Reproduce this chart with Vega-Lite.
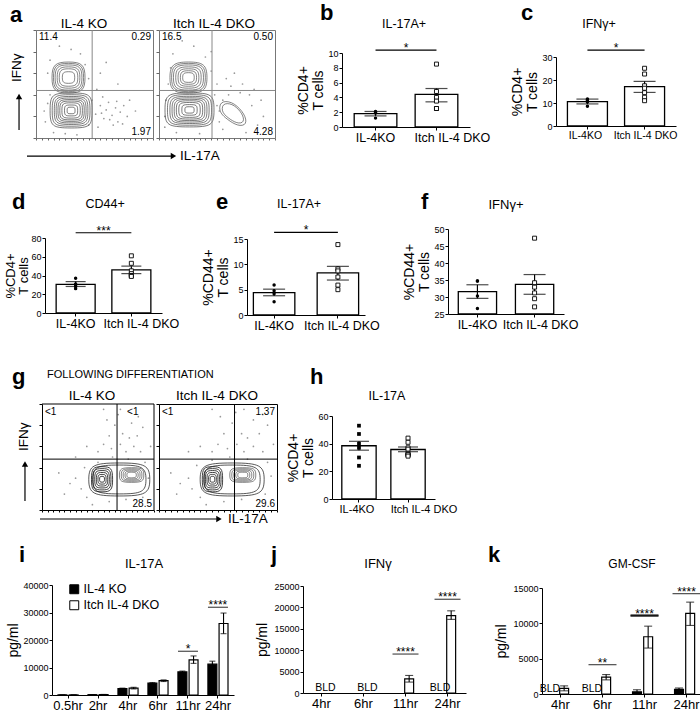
{
"$schema": "https://vega.github.io/schema/vega-lite/v6.json",
"padding": {"left": 4, "top": 2, "right": 2, "bottom": 2},
"config": {
  "font": "Liberation Sans",
  "view": {"stroke": null},
  "axis": {"domainColor":"#000","tickColor":"#000","labelColor":"#000","titleColor":"#000","grid":false,"tickSize":3,"labelPadding":1,"labelFontSize":9,"titleFontWeight":"normal","titleFontSize":14,"titleLineHeight":15,"domainWidth":1,"tickWidth":1,"labelFlush":false,"labelOverlap":false,"labelBound":false},
  "text": {"color":"#000","baseline":"alphabetic"},
  "point": {"opacity":1},
  "legend": {"labelColor":"#000"}
},
"datasets": {
  "aL_dots": [{"x":0.08,"y":0.15},{"x":0.1,"y":0.32},{"x":0.12,"y":0.4},{"x":0.07,"y":0.25},{"x":0.15,"y":0.05},{"x":0.45,"y":0.12},{"x":0.48,"y":0.35},{"x":0.51,"y":0.22},{"x":0.55,"y":0.3},{"x":0.58,"y":0.18},{"x":0.6,"y":0.26},{"x":0.62,"y":0.33},{"x":0.65,"y":0.21},{"x":0.68,"y":0.28},{"x":0.7,"y":0.15},{"x":0.72,"y":0.24},{"x":0.75,"y":0.3},{"x":0.78,"y":0.2},{"x":0.66,"y":0.12},{"x":0.57,"y":0.38},{"x":0.52,"y":0.45},{"x":0.45,"y":0.55},{"x":0.1,"y":0.6},{"x":0.12,"y":0.72},{"x":0.42,"y":0.68},{"x":0.38,"y":0.78},{"x":0.2,"y":0.85},{"x":0.3,"y":0.82},{"x":0.55,"y":0.6},{"x":0.6,"y":0.7},{"x":0.35,"y":0.03},{"x":0.25,"y":0.04},{"x":0.8,"y":0.35},{"x":0.85,"y":0.25},{"x":0.7,"y":0.5},{"x":0.63,"y":0.17},{"x":0.69,"y":0.34},{"x":0.74,"y":0.13},{"x":0.56,"y":0.23},{"x":0.53,"y":0.1}],
  "aR_dots": [{"x":0.05,"y":0.2},{"x":0.06,"y":0.35},{"x":0.08,"y":0.5},{"x":0.1,"y":0.65},{"x":0.12,"y":0.78},{"x":0.4,"y":0.75},{"x":0.45,"y":0.62},{"x":0.5,"y":0.5},{"x":0.48,"y":0.4},{"x":0.5,"y":0.3},{"x":0.52,"y":0.15},{"x":0.78,"y":0.4},{"x":0.8,"y":0.3},{"x":0.85,"y":0.12},{"x":0.55,"y":0.08},{"x":0.6,"y":0.4},{"x":0.7,"y":0.42},{"x":0.88,"y":0.35},{"x":0.9,"y":0.2},{"x":0.58,"y":0.55},{"x":0.65,"y":0.6},{"x":0.3,"y":0.85},{"x":0.2,"y":0.9},{"x":0.15,"y":0.05},{"x":0.35,"y":0.04},{"x":0.75,"y":0.05},{"x":0.72,"y":0.5},{"x":0.55,"y":0.35},{"x":0.52,"y":0.25},{"x":0.82,"y":0.45},{"x":0.62,"y":0.48},{"x":0.45,"y":0.8},{"x":0.05,"y":0.1}],
  "gL_dots": [{"x":0.5,"y":0.55},{"x":0.55,"y":0.62},{"x":0.6,"y":0.7},{"x":0.62,"y":0.58},{"x":0.65,"y":0.8},{"x":0.7,"y":0.62},{"x":0.72,"y":0.72},{"x":0.75,"y":0.55},{"x":0.78,"y":0.68},{"x":0.8,"y":0.82},{"x":0.82,"y":0.6},{"x":0.85,"y":0.7},{"x":0.88,"y":0.55},{"x":0.9,"y":0.78},{"x":0.68,"y":0.9},{"x":0.58,"y":0.85},{"x":0.3,"y":0.3},{"x":0.35,"y":0.2},{"x":0.38,"y":0.4},{"x":0.4,"y":0.12},{"x":0.25,"y":0.25},{"x":0.45,"y":0.05},{"x":0.6,"y":0.08},{"x":0.75,"y":0.1},{"x":0.9,"y":0.12},{"x":0.95,"y":0.3},{"x":0.92,"y":0.45},{"x":0.4,"y":0.6},{"x":0.2,"y":0.15},{"x":0.5,"y":0.45},{"x":0.63,"y":0.5},{"x":0.77,"y":0.48},{"x":0.86,"y":0.88},{"x":0.7,"y":0.95},{"x":0.3,"y":0.5},{"x":0.15,"y":0.35},{"x":0.97,"y":0.6},{"x":0.55,"y":0.95}],
  "gR_dots": [{"x":0.45,"y":0.55},{"x":0.5,"y":0.62},{"x":0.55,"y":0.72},{"x":0.58,"y":0.58},{"x":0.62,"y":0.82},{"x":0.66,"y":0.62},{"x":0.7,"y":0.72},{"x":0.72,"y":0.55},{"x":0.75,"y":0.68},{"x":0.8,"y":0.85},{"x":0.8,"y":0.6},{"x":0.85,"y":0.72},{"x":0.88,"y":0.55},{"x":0.92,"y":0.8},{"x":0.65,"y":0.92},{"x":0.52,"y":0.88},{"x":0.25,"y":0.3},{"x":0.28,"y":0.2},{"x":0.32,"y":0.42},{"x":0.35,"y":0.12},{"x":0.18,"y":0.25},{"x":0.4,"y":0.05},{"x":0.55,"y":0.08},{"x":0.7,"y":0.1},{"x":0.9,"y":0.15},{"x":0.95,"y":0.32},{"x":0.92,"y":0.45},{"x":0.35,"y":0.6},{"x":0.15,"y":0.15},{"x":0.45,"y":0.47},{"x":0.6,"y":0.5},{"x":0.75,"y":0.48},{"x":0.88,"y":0.9},{"x":0.72,"y":0.95},{"x":0.25,"y":0.55},{"x":0.1,"y":0.35},{"x":0.97,"y":0.62},{"x":0.45,"y":0.95}],
  "aL_cont": [{"cluster":"main","cx":0.30,"cy":0.255,"level":1.5},{"cluster":"main","cx":0.30,"cy":0.255,"level":2.5},{"cluster":"main","cx":0.30,"cy":0.255,"level":3.5},{"cluster":"main","cx":0.30,"cy":0.255,"level":4.3},{"cluster":"main","cx":0.30,"cy":0.255,"level":5},{"cluster":"main","cx":0.30,"cy":0.255,"level":5.7},{"cluster":"main","cx":0.30,"cy":0.255,"level":6.4},{"cluster":"main","cx":0.30,"cy":0.255,"level":7.2},{"cluster":"main","cx":0.30,"cy":0.255,"level":8},{"cluster":"up","cx":0.278,"cy":0.56,"level":3},{"cluster":"up","cx":0.278,"cy":0.56,"level":4.5},{"cluster":"up","cx":0.278,"cy":0.56,"level":5.5},{"cluster":"up","cx":0.278,"cy":0.56,"level":6.5},{"cluster":"up","cx":0.278,"cy":0.56,"level":7.3},{"cluster":"up","cx":0.278,"cy":0.56,"level":8}],
  "aR_cont": [{"cluster":"main","cx":0.263,"cy":0.26,"level":1.5},{"cluster":"main","cx":0.263,"cy":0.26,"level":2.5},{"cluster":"main","cx":0.263,"cy":0.26,"level":3.5},{"cluster":"main","cx":0.263,"cy":0.26,"level":4.3},{"cluster":"main","cx":0.263,"cy":0.26,"level":5},{"cluster":"main","cx":0.263,"cy":0.26,"level":5.7},{"cluster":"main","cx":0.263,"cy":0.26,"level":6.4},{"cluster":"main","cx":0.263,"cy":0.26,"level":7.2},{"cluster":"main","cx":0.263,"cy":0.26,"level":8},{"cluster":"up","cx":0.254,"cy":0.56,"level":2.5},{"cluster":"up","cx":0.254,"cy":0.56,"level":3.5},{"cluster":"up","cx":0.254,"cy":0.56,"level":4.5},{"cluster":"up","cx":0.254,"cy":0.56,"level":5.5},{"cluster":"up","cx":0.254,"cy":0.56,"level":6.5},{"cluster":"up","cx":0.254,"cy":0.56,"level":7.3},{"cluster":"up","cx":0.254,"cy":0.56,"level":8},{"cluster":"il17","cx":0.64,"cy":0.236,"level":6.5},{"cluster":"il17","cx":0.64,"cy":0.236,"level":8}],
  "gL_cont": [{"cluster":"all","cx":0.69,"cy":0.288,"level":7},{"cluster":"all","cx":0.69,"cy":0.288,"level":8},{"cluster":"core","cx":0.536,"cy":0.29,"level":1.5},{"cluster":"core","cx":0.536,"cy":0.29,"level":2.5},{"cluster":"core","cx":0.536,"cy":0.29,"level":3.5},{"cluster":"core","cx":0.536,"cy":0.29,"level":4.5},{"cluster":"core","cx":0.536,"cy":0.29,"level":5.5},{"cluster":"core","cx":0.536,"cy":0.29,"level":6.5},{"cluster":"lobe","cx":0.80,"cy":0.33,"level":2.5},{"cluster":"lobe","cx":0.80,"cy":0.33,"level":3.5},{"cluster":"lobe","cx":0.80,"cy":0.33,"level":4.5},{"cluster":"lobe","cx":0.80,"cy":0.33,"level":5.5},{"cluster":"lobe","cx":0.80,"cy":0.33,"level":6.5}],
  "gR_cont": [{"cluster":"all","cx":0.62,"cy":0.288,"level":7},{"cluster":"all","cx":0.62,"cy":0.288,"level":8},{"cluster":"core","cx":0.453,"cy":0.29,"level":1.5},{"cluster":"core","cx":0.453,"cy":0.29,"level":2.5},{"cluster":"core","cx":0.453,"cy":0.29,"level":3.5},{"cluster":"core","cx":0.453,"cy":0.29,"level":4.5},{"cluster":"core","cx":0.453,"cy":0.29,"level":5.5},{"cluster":"core","cx":0.453,"cy":0.29,"level":6.5},{"cluster":"lobe","cx":0.71,"cy":0.33,"level":2.5},{"cluster":"lobe","cx":0.71,"cy":0.33,"level":3.5},{"cluster":"lobe","cx":0.71,"cy":0.33,"level":4.5},{"cluster":"lobe","cx":0.71,"cy":0.33,"level":5.5},{"cluster":"lobe","cx":0.71,"cy":0.33,"level":6.5}],
  "b_sum": [{"g":"IL-4KO","mean":1.8,"lo":1.5,"hi":2.1},{"g":"Itch IL-4 DKO","mean":4.4,"lo":3.4,"hi":5.2}],
  "b_pts": [{"g":"IL-4KO","v":2.1},{"g":"IL-4KO","v":2.0},{"g":"IL-4KO","v":1.9},{"g":"IL-4KO","v":1.2},{"g":"Itch IL-4 DKO","v":8.5},{"g":"Itch IL-4 DKO","v":4.8},{"g":"Itch IL-4 DKO","v":4.0},{"g":"Itch IL-4 DKO","v":3.5},{"g":"Itch IL-4 DKO","v":2.5},{"g":"Itch IL-4 DKO","v":2.5}],
  "c_sum": [{"g":"IL-4KO","mean":10.6,"lo":9.6,"hi":11.7},{"g":"Itch IL-4 DKO","mean":17.1,"lo":14.6,"hi":19.4}],
  "c_pts": [{"g":"IL-4KO","v":11.8},{"g":"IL-4KO","v":11.4},{"g":"IL-4KO","v":11.0},{"g":"IL-4KO","v":10.4},{"g":"IL-4KO","v":8.6},{"g":"Itch IL-4 DKO","v":25.1},{"g":"Itch IL-4 DKO","v":22.6},{"g":"Itch IL-4 DKO","v":17.5},{"g":"Itch IL-4 DKO","v":16.4},{"g":"Itch IL-4 DKO","v":14.5},{"g":"Itch IL-4 DKO","v":12.5},{"g":"Itch IL-4 DKO","v":11.0}],
  "d_sum": [{"g":"IL-4KO","mean":30.5,"lo":28.3,"hi":33.5},{"g":"Itch IL-4 DKO","mean":46,"lo":42,"hi":50}],
  "d_pts": [{"g":"IL-4KO","v":37},{"g":"IL-4KO","v":31},{"g":"IL-4KO","v":30},{"g":"IL-4KO","v":28},{"g":"IL-4KO","v":26},{"g":"Itch IL-4 DKO","v":61},{"g":"Itch IL-4 DKO","v":53},{"g":"Itch IL-4 DKO","v":45},{"g":"Itch IL-4 DKO","v":42},{"g":"Itch IL-4 DKO","v":40},{"g":"Itch IL-4 DKO","v":40},{"g":"Itch IL-4 DKO","v":39}],
  "e_sum": [{"g":"IL-4KO","mean":4.4,"lo":3.8,"hi":5.1},{"g":"Itch IL-4 DKO","mean":8.3,"lo":6.9,"hi":9.6}],
  "e_pts": [{"g":"IL-4KO","v":5.9},{"g":"IL-4KO","v":4.8},{"g":"IL-4KO","v":4.2},{"g":"IL-4KO","v":2.6},{"g":"Itch IL-4 DKO","v":13.9},{"g":"Itch IL-4 DKO","v":9.1},{"g":"Itch IL-4 DKO","v":8.7},{"g":"Itch IL-4 DKO","v":7.5},{"g":"Itch IL-4 DKO","v":5.9},{"g":"Itch IL-4 DKO","v":5.0}],
  "f_sum": [{"g":"IL-4KO","mean":31.6,"lo":29.6,"hi":33.6},{"g":"Itch IL-4 DKO","mean":33.7,"lo":30.8,"hi":36.6}],
  "f_pts": [{"g":"IL-4KO","v":34.7},{"g":"IL-4KO","v":34.7},{"g":"IL-4KO","v":30.3},{"g":"IL-4KO","v":26.6},{"g":"Itch IL-4 DKO","v":47.3},{"g":"Itch IL-4 DKO","v":34.2},{"g":"Itch IL-4 DKO","v":32.9},{"g":"Itch IL-4 DKO","v":31.2},{"g":"Itch IL-4 DKO","v":29.5},{"g":"Itch IL-4 DKO","v":27.1}],
  "h_sum": [{"g":"IL-4KO","mean":38.5,"lo":35.3,"hi":41.7},{"g":"Itch IL-4 DKO","mean":35.8,"lo":34.2,"hi":37.6}],
  "h_pts": [{"g":"IL-4KO","v":53},{"g":"IL-4KO","v":47},{"g":"IL-4KO","v":40},{"g":"IL-4KO","v":37},{"g":"IL-4KO","v":30},{"g":"IL-4KO","v":24},{"g":"Itch IL-4 DKO","v":44},{"g":"Itch IL-4 DKO","v":41},{"g":"Itch IL-4 DKO","v":37},{"g":"Itch IL-4 DKO","v":36},{"g":"Itch IL-4 DKO","v":33},{"g":"Itch IL-4 DKO","v":32},{"g":"Itch IL-4 DKO","v":32},{"g":"Itch IL-4 DKO","v":31}],
  "i_sum": [{"time":"0.5hr","geno":"IL-4 KO","mean":20,"lo":20,"hi":20},{"time":"0.5hr","geno":"Itch IL-4 DKO","mean":30,"lo":30,"hi":30},{"time":"2hr","geno":"IL-4 KO","mean":120,"lo":100,"hi":140},{"time":"2hr","geno":"Itch IL-4 DKO","mean":180,"lo":150,"hi":210},{"time":"4hr","geno":"IL-4 KO","mean":2300,"lo":2100,"hi":2500},{"time":"4hr","geno":"Itch IL-4 DKO","mean":2500,"lo":2200,"hi":2800},{"time":"6hr","geno":"IL-4 KO","mean":4300,"lo":4100,"hi":4500},{"time":"6hr","geno":"Itch IL-4 DKO","mean":5200,"lo":4900,"hi":5500},{"time":"11hr","geno":"IL-4 KO","mean":8400,"lo":8100,"hi":8700},{"time":"11hr","geno":"Itch IL-4 DKO","mean":12800,"lo":11500,"hi":14200},{"time":"24hr","geno":"IL-4 KO","mean":11200,"lo":10300,"hi":12300},{"time":"24hr","geno":"Itch IL-4 DKO","mean":26000,"lo":22300,"hi":29800}],
  "i_sig": [{"time":"11hr","level":15900,"stars":"*"},{"time":"24hr","level":31900,"stars":"****"}],
  "j_sum": [{"time":"11hr","geno":"Itch IL-4 DKO","mean":3300,"lo":2550,"hi":4100},{"time":"24hr","geno":"Itch IL-4 DKO","mean":18100,"lo":17200,"hi":19200}],
  "j_bld_c": [{"time":"4hr"},{"time":"6hr"}],
  "j_bld_g": [{"time":"24hr","geno":"IL-4 KO"}],
  "j_sig": [{"time":"11hr","level":9100,"stars":"****"},{"time":"24hr","level":21900,"stars":"****"}],
  "k_sum": [{"time":"4hr","geno":"Itch IL-4 DKO","mean":800,"lo":450,"hi":1150},{"time":"6hr","geno":"Itch IL-4 DKO","mean":2400,"lo":2000,"hi":2750},{"time":"11hr","geno":"IL-4 KO","mean":300,"lo":30,"hi":600},{"time":"11hr","geno":"Itch IL-4 DKO","mean":8100,"lo":6500,"hi":9600},{"time":"24hr","geno":"IL-4 KO","mean":650,"lo":480,"hi":850},{"time":"24hr","geno":"Itch IL-4 DKO","mean":11400,"lo":9700,"hi":13000}],
  "k_bld": [{"time":"4hr","geno":"IL-4 KO"},{"time":"6hr","geno":"IL-4 KO"}],
  "k_sig": [{"time":"6hr","level":4150,"stars":"**"},{"time":"11hr","level":11100,"stars":"****"},{"time":"24hr","level":14200,"stars":"****"}]
},
"spacing": 34,
"resolve": {"scale": {"fill": "independent"}, "legend": {"fill": "independent"}},
"vconcat": [
 {"spacing": 27, "vconcat": [
  {"spacing": 20, "hconcat": [
   {"spacing": 6, "bounds": "flush", "hconcat": [
    {"width":117,"height":108,"view":{"stroke":"#777"},
     "layer":[
      {"data":{"name":"aL_dots"},"mark":{"type":"point","filled":true,"size":3,"color":"#9a9a9a","clip":true},
       "encoding":{"x":{"field":"x","type":"quantitative","scale":{"domain":[0,1],"nice":false,"zero":false},"axis":{"title":null,"labels":false,"tickCount":24,"tickSize":2,"domain":false,"tickColor":"#666"}},
                   "y":{"field":"y","type":"quantitative","scale":{"domain":[0,1],"nice":false,"zero":false},"axis":{"title":null,"labels":false,"tickCount":6,"tickSize":3,"domain":false,"tickColor":"#666"}}}},
      {"data":{"name":"aL_cont"},"transform":[{"filter":"datum.cluster === 'main'"}],"mark":{"type":"point","shape":"M -2.1 0 C -2.1 -1.575 -1.89 -1.75 0 -1.75 C 1.89 -1.75 2.1 -1.575 2.1 0 C 2.1 1.575 1.89 1.75 0 1.75 C -1.89 1.75 -2.1 1.575 -2.1 0 Z","filled":false,"stroke":"#222","strokeWidth":0.6,"clip":true},
       "encoding":{"x":{"field":"cx","type":"quantitative"},"y":{"field":"cy","type":"quantitative"},"size":{"field":"level","type":"quantitative","scale":{"type":"pow","exponent":2,"domain":[0,8],"range":[0,400]},"legend":null}}},
      {"data":{"name":"aL_cont"},"transform":[{"filter":"datum.cluster === 'up'"}],"mark":{"type":"point","shape":"M -1.65 0 C -1.65 -1.24 -1.32 -1.55 0 -1.55 C 1.32 -1.55 1.65 -1.24 1.65 0 C 1.65 1.24 1.32 1.55 0 1.55 C -1.32 1.55 -1.65 1.24 -1.65 0 Z","filled":false,"stroke":"#333","strokeWidth":0.6,"clip":true},
       "encoding":{"x":{"field":"cx","type":"quantitative"},"y":{"field":"cy","type":"quantitative"},"size":{"field":"level","type":"quantitative","scale":{"type":"pow","exponent":2,"domain":[0,8],"range":[0,400]},"legend":null}}},
      {"data":{"values":[{}]},"mark":{"type":"rule","color":"#888","strokeWidth":1},"encoding":{"x":{"datum":0.48}}},
      {"data":{"values":[{}]},"mark":{"type":"rule","color":"#888","strokeWidth":1},"encoding":{"y":{"datum":0.44}}},
      {"data":{"values":[{}]},"mark":{"type":"text","text":"11.4","fontSize":10,"align":"left","baseline":"top","dx":3,"dy":2},"encoding":{"x":{"datum":0},"y":{"datum":1}}},
      {"data":{"values":[{}]},"mark":{"type":"text","text":"0.29","fontSize":10,"align":"right","baseline":"top","dx":-2,"dy":2},"encoding":{"x":{"datum":1},"y":{"datum":1}}},
      {"data":{"values":[{}]},"mark":{"type":"text","text":"1.97","fontSize":10,"align":"right","baseline":"bottom","dx":-2,"dy":-1},"encoding":{"x":{"datum":1},"y":{"datum":0}}},
      {"data":{"values":[{}]},"mark":{"type":"text","text":"IL-4 KO","fontSize":13.5,"dx":-10.5,"dy":-2},"encoding":{"x":{"datum":0.5},"y":{"datum":1}}},
      {"data":{"values":[{}]},"mark":{"type":"text","text":"a","fontSize":22,"fontWeight":"bold","align":"left","dx":-26,"dy":-8},"encoding":{"x":{"datum":0},"y":{"datum":1}}},
      {"data":{"values":[{}]},"mark":{"type":"rule","color":"#000","strokeWidth":1.2},"encoding":{"x":{"datum":-0.145},"y":{"datum":0.074},"y2":{"datum":0.37}}},
      {"data":{"values":[{}]},"mark":{"type":"point","shape":"triangle-up","filled":true,"color":"#000","size":40},"encoding":{"x":{"datum":-0.145},"y":{"datum":0.385}}},
      {"data":{"values":[{}]},"mark":{"type":"text","text":"IFNγ","fontSize":13.5,"angle":270,"baseline":"middle"},"encoding":{"x":{"datum":-0.16},"y":{"datum":0.65}}},
      {"data":{"values":[{}]},"mark":{"type":"rule","color":"#000","strokeWidth":1.2},"encoding":{"x":{"datum":-0.077},"x2":{"datum":1.16},"y":{"datum":-0.167}}},
      {"data":{"values":[{}]},"mark":{"type":"point","shape":"triangle-right","filled":true,"color":"#000","size":40},"encoding":{"x":{"datum":1.175},"y":{"datum":-0.167}}},
      {"data":{"values":[{}]},"mark":{"type":"text","text":"IL-17A","fontSize":13.5,"align":"left","baseline":"middle"},"encoding":{"x":{"datum":1.23},"y":{"datum":-0.167}}}
     ]},
    {"width":116,"height":108,"view":{"stroke":"#777"},
     "layer":[
      {"data":{"name":"aR_dots"},"mark":{"type":"point","filled":true,"size":3,"color":"#9a9a9a","clip":true},
       "encoding":{"x":{"field":"x","type":"quantitative","scale":{"domain":[0,1],"nice":false,"zero":false},"axis":{"title":null,"labels":false,"tickCount":24,"tickSize":2,"domain":false,"tickColor":"#666"}},
                   "y":{"field":"y","type":"quantitative","scale":{"domain":[0,1],"nice":false,"zero":false},"axis":{"title":null,"labels":false,"tickCount":6,"tickSize":3,"domain":false,"tickColor":"#666"}}}},
      {"data":{"name":"aR_cont"},"transform":[{"filter":"datum.cluster === 'main'"}],"mark":{"type":"point","shape":"M -2.45 0 C -2.45 -1.53 -2.205 -1.7 0 -1.7 C 2.205 -1.7 2.45 -1.53 2.45 0 C 2.45 1.53 2.205 1.7 0 1.7 C -2.205 1.7 -2.45 1.53 -2.45 0 Z","filled":false,"stroke":"#222","strokeWidth":0.6,"clip":true},
       "encoding":{"x":{"field":"cx","type":"quantitative"},"y":{"field":"cy","type":"quantitative"},"size":{"field":"level","type":"quantitative","scale":{"type":"pow","exponent":2,"domain":[0,8],"range":[0,400]},"legend":null}}},
      {"data":{"name":"aR_cont"},"transform":[{"filter":"datum.cluster === 'up'"}],"mark":{"type":"point","shape":"M -1.85 0 C -1.85 -1.24 -1.48 -1.55 0 -1.55 C 1.48 -1.55 1.85 -1.24 1.85 0 C 1.85 1.24 1.48 1.55 0 1.55 C -1.48 1.55 -1.85 1.24 -1.85 0 Z","filled":false,"stroke":"#333","strokeWidth":0.6,"clip":true},
       "encoding":{"x":{"field":"cx","type":"quantitative"},"y":{"field":"cy","type":"quantitative"},"size":{"field":"level","type":"quantitative","scale":{"type":"pow","exponent":2,"domain":[0,8],"range":[0,400]},"legend":null}}},
      {"data":{"name":"aR_cont"},"transform":[{"filter":"datum.cluster === 'il17'"}],"mark":{"type":"point","shape":"M -1.35 -0.5 C -1.35 -1.3 -0.3 -1.25 0.4 -0.6 C 1.1 0 1.5 0.9 1.1 1.2 C 0.6 1.5 -0.2 1.0 -0.8 0.5 C -1.2 0.15 -1.35 -0.1 -1.35 -0.5 Z","filled":false,"stroke":"#333","strokeWidth":0.6,"clip":true},
       "encoding":{"x":{"field":"cx","type":"quantitative"},"y":{"field":"cy","type":"quantitative"},"size":{"field":"level","type":"quantitative","scale":{"type":"pow","exponent":2,"domain":[0,8],"range":[0,400]},"legend":null}}},
      {"data":{"values":[{}]},"mark":{"type":"rule","color":"#888","strokeWidth":1},"encoding":{"x":{"datum":0.457}}},
      {"data":{"values":[{}]},"mark":{"type":"rule","color":"#888","strokeWidth":1},"encoding":{"y":{"datum":0.44}}},
      {"data":{"values":[{}]},"mark":{"type":"text","text":"16.5","fontSize":10,"align":"left","baseline":"top","dx":3,"dy":2},"encoding":{"x":{"datum":0},"y":{"datum":1}}},
      {"data":{"values":[{}]},"mark":{"type":"text","text":"0.50","fontSize":10,"align":"right","baseline":"top","dx":-2,"dy":2},"encoding":{"x":{"datum":1},"y":{"datum":1}}},
      {"data":{"values":[{}]},"mark":{"type":"text","text":"4.28","fontSize":10,"align":"right","baseline":"bottom","dx":-2,"dy":-1},"encoding":{"x":{"datum":1},"y":{"datum":0}}},
      {"data":{"values":[{}]},"mark":{"type":"text","text":"Itch  IL-4 DKO","fontSize":13.5,"dx":-3,"dy":-2},"encoding":{"x":{"datum":0.5},"y":{"datum":1}}}
     ]}
   ]},
   {"width":128,"height":97,
    "layer":[
     {"data":{"name":"b_sum"},"mark":{"type":"bar","fill":"#fff","stroke":"#000","strokeWidth":1.3},
      "encoding":{"x":{"field":"g","type":"nominal","scale":{"domain":["IL-4KO","Itch IL-4 DKO"],"paddingInner":0.3,"paddingOuter":0.2},"axis":{"title":null,"labelAngle":0,"labelFontSize":12.5,"labelOverlap":false,"labelOffset":{"condition":{"test":"datum.value === 'Itch IL-4 DKO'","value":16},"value":0}}},
                  "y":{"field":"mean","type":"quantitative","scale":{"domain":[0,10],"nice":false,"range":[97,23]},"axis":{"values":[0,2,4,6,8,10],"format":"d","tickCount":20,"labelOverlap":false,"title":["%CD4+","T cells"],"titlePadding":2}}}},
     {"data":{"name":"b_sum"},"mark":{"type":"rule","color":"#000","strokeWidth":1.2},"encoding":{"x":{"field":"g","type":"nominal"},"y":{"field":"lo","type":"quantitative"},"y2":{"field":"hi"}}},
     {"data":{"name":"b_sum"},"mark":{"type":"tick","size":22,"thickness":1.2,"color":"#000"},"encoding":{"x":{"field":"g","type":"nominal"},"y":{"field":"lo","type":"quantitative"}}},
     {"data":{"name":"b_sum"},"mark":{"type":"tick","size":22,"thickness":1.2,"color":"#000"},"encoding":{"x":{"field":"g","type":"nominal"},"y":{"field":"hi","type":"quantitative"}}},
     {"data":{"name":"b_pts"},"transform":[{"filter":"datum.g === 'IL-4KO'"}],"mark":{"type":"point","shape":"circle","filled":true,"color":"#000","size":12},"encoding":{"x":{"field":"g","type":"nominal"},"y":{"field":"v","type":"quantitative"}}},
     {"data":{"name":"b_pts"},"transform":[{"filter":"datum.g !== 'IL-4KO'"}],"mark":{"type":"point","shape":"square","filled":true,"fill":"#fff","stroke":"#000","strokeWidth":0.9,"size":16},"encoding":{"x":{"field":"g","type":"nominal"},"y":{"field":"v","type":"quantitative"}}},
     {"data":{"values":[{}]},"mark":{"type":"rule","color":"#000","strokeWidth":1.2},"encoding":{"x":{"datum":"IL-4KO"},"x2":{"datum":"Itch IL-4 DKO"},"y":{"datum":10.4}}},
     {"data":{"values":[{}]},"mark":{"type":"text","text":"*","fontSize":12,"dx":30.5,"dy":2},"encoding":{"x":{"datum":"IL-4KO"},"y":{"datum":10.4}}},
     {"data":{"values":[{}]},"mark":{"type":"text","text":"b","fontSize":22,"fontWeight":"bold","align":"left","dx":-55.5,"dy":-33},"encoding":{"x":{"datum":"IL-4KO"},"y":{"datum":10}}},
     {"data":{"values":[{}]},"mark":{"type":"text","text":"IL-17A+","fontSize":12.5,"dx":28.5,"dy":-25},"encoding":{"x":{"datum":"IL-4KO"},"y":{"datum":10}}}
    ]},
   {"width":120,"height":96,
    "layer":[
     {"data":{"name":"c_sum"},"mark":{"type":"bar","fill":"#fff","stroke":"#000","strokeWidth":1.3},
      "encoding":{"x":{"field":"g","type":"nominal","scale":{"domain":["IL-4KO","Itch IL-4 DKO"],"paddingInner":0.3,"paddingOuter":0.2},"axis":{"title":null,"labelAngle":0,"labelFontSize":10.5,"labelOverlap":false,"labelOffset":{"condition":{"test":"datum.value === 'Itch IL-4 DKO'","value":1},"value":-2}}},
                  "y":{"field":"mean","type":"quantitative","scale":{"domain":[0,30],"nice":false,"range":[96,27]},"axis":{"values":[0,10,20,30],"format":"d","tickCount":20,"labelOverlap":false,"title":["%CD4+","T cells"],"titlePadding":2}}}},
     {"data":{"name":"c_sum"},"mark":{"type":"rule","color":"#000","strokeWidth":1.2},"encoding":{"x":{"field":"g","type":"nominal"},"y":{"field":"lo","type":"quantitative"},"y2":{"field":"hi"}}},
     {"data":{"name":"c_sum"},"mark":{"type":"tick","size":22,"thickness":1.2,"color":"#000"},"encoding":{"x":{"field":"g","type":"nominal"},"y":{"field":"lo","type":"quantitative"}}},
     {"data":{"name":"c_sum"},"mark":{"type":"tick","size":22,"thickness":1.2,"color":"#000"},"encoding":{"x":{"field":"g","type":"nominal"},"y":{"field":"hi","type":"quantitative"}}},
     {"data":{"name":"c_pts"},"transform":[{"filter":"datum.g === 'IL-4KO'"}],"mark":{"type":"point","shape":"circle","filled":true,"color":"#000","size":12},"encoding":{"x":{"field":"g","type":"nominal"},"y":{"field":"v","type":"quantitative"}}},
     {"data":{"name":"c_pts"},"transform":[{"filter":"datum.g !== 'IL-4KO'"}],"mark":{"type":"point","shape":"square","filled":true,"fill":"#fff","stroke":"#000","strokeWidth":0.9,"size":16},"encoding":{"x":{"field":"g","type":"nominal"},"y":{"field":"v","type":"quantitative"}}},
     {"data":{"values":[{}]},"mark":{"type":"rule","color":"#000","strokeWidth":1.2},"encoding":{"x":{"datum":"IL-4KO"},"x2":{"datum":"Itch IL-4 DKO"},"y":{"datum":33}}},
     {"data":{"values":[{}]},"mark":{"type":"text","text":"*","fontSize":12,"dx":28.6,"dy":2},"encoding":{"x":{"datum":"IL-4KO"},"y":{"datum":33}}},
     {"data":{"values":[{}]},"mark":{"type":"text","text":"c","fontSize":22,"fontWeight":"bold","align":"left","dx":-66.4,"dy":-37},"encoding":{"x":{"datum":"IL-4KO"},"y":{"datum":30}}},
     {"data":{"values":[{}]},"mark":{"type":"text","text":"IFNγ+","fontSize":12.5,"dx":11.6,"dy":-29},"encoding":{"x":{"datum":"IL-4KO"},"y":{"datum":30}}}
    ]}
  ]},
  {"spacing": 22, "hconcat": [
   {"width":126,"height":84,
    "layer":[
     {"data":{"name":"d_sum"},"mark":{"type":"bar","fill":"#fff","stroke":"#000","strokeWidth":1.3},
      "encoding":{"x":{"field":"g","type":"nominal","scale":{"domain":["IL-4KO","Itch IL-4 DKO"],"paddingInner":0.3,"paddingOuter":0.2,"range":[9,126]},"axis":{"title":null,"labelAngle":0,"labelFontSize":12.5,"labelOverlap":false,"labelOffset":{"condition":{"test":"datum.value === 'Itch IL-4 DKO'","value":10},"value":0}}},
                  "y":{"field":"mean","type":"quantitative","scale":{"domain":[0,80],"nice":false,"range":[84,9]},"axis":{"values":[0,20,40,60,80],"format":"d","tickCount":20,"labelOverlap":false,"offset":-9,"title":["%CD4+","T cells"],"titlePadding":0,"titleFontSize":13,"titleLineHeight":13}}}},
     {"data":{"name":"d_sum"},"mark":{"type":"rule","color":"#000","strokeWidth":1.2},"encoding":{"x":{"field":"g","type":"nominal"},"y":{"field":"lo","type":"quantitative"},"y2":{"field":"hi"}}},
     {"data":{"name":"d_sum"},"mark":{"type":"tick","size":20,"thickness":1.2,"color":"#000"},"encoding":{"x":{"field":"g","type":"nominal"},"y":{"field":"lo","type":"quantitative"}}},
     {"data":{"name":"d_sum"},"mark":{"type":"tick","size":20,"thickness":1.2,"color":"#000"},"encoding":{"x":{"field":"g","type":"nominal"},"y":{"field":"hi","type":"quantitative"}}},
     {"data":{"name":"d_pts"},"transform":[{"filter":"datum.g === 'IL-4KO'"}],"mark":{"type":"point","shape":"circle","filled":true,"color":"#000","size":12},"encoding":{"x":{"field":"g","type":"nominal"},"y":{"field":"v","type":"quantitative"}}},
     {"data":{"name":"d_pts"},"transform":[{"filter":"datum.g !== 'IL-4KO'"}],"mark":{"type":"point","shape":"square","filled":true,"fill":"#fff","stroke":"#000","strokeWidth":0.9,"size":16},"encoding":{"x":{"field":"g","type":"nominal"},"y":{"field":"v","type":"quantitative"}}},
     {"data":{"values":[{}]},"mark":{"type":"rule","color":"#000","strokeWidth":1.2},"encoding":{"x":{"datum":"IL-4KO"},"x2":{"datum":"Itch IL-4 DKO"},"y":{"datum":85.6}}},
     {"data":{"values":[{}]},"mark":{"type":"text","text":"***","fontSize":12,"dx":27.9,"dy":2},"encoding":{"x":{"datum":"IL-4KO"},"y":{"datum":85.6}}},
     {"data":{"values":[{}]},"mark":{"type":"text","text":"d","fontSize":22,"fontWeight":"bold","align":"left","dx":-63.6,"dy":-29},"encoding":{"x":{"datum":"IL-4KO"},"y":{"datum":80}}},
     {"data":{"values":[{}]},"mark":{"type":"text","text":"CD44+","fontSize":12.5,"dx":29.4,"dy":-30},"encoding":{"x":{"datum":"IL-4KO"},"y":{"datum":80}}}
    ]},
   {"width":118,"height":86,
    "layer":[
     {"data":{"name":"e_sum"},"mark":{"type":"bar","fill":"#fff","stroke":"#000","strokeWidth":1.3},
      "encoding":{"x":{"field":"g","type":"nominal","scale":{"domain":["IL-4KO","Itch IL-4 DKO"],"paddingInner":0.35,"paddingOuter":0.1},"axis":{"title":null,"labelAngle":0,"labelFontSize":12.5,"labelOverlap":false,"labelOffset":{"condition":{"test":"datum.value === 'Itch IL-4 DKO'","value":4},"value":0}}},
                  "y":{"field":"mean","type":"quantitative","scale":{"domain":[0,15],"nice":false,"range":[86,10]},"axis":{"values":[0,5,10,15],"format":"d","tickCount":20,"labelOverlap":false,"title":["%CD44+","T cells"],"titlePadding":2}}}},
     {"data":{"name":"e_sum"},"mark":{"type":"rule","color":"#000","strokeWidth":1.2},"encoding":{"x":{"field":"g","type":"nominal"},"y":{"field":"lo","type":"quantitative"},"y2":{"field":"hi"}}},
     {"data":{"name":"e_sum"},"mark":{"type":"tick","size":22,"thickness":1.2,"color":"#000"},"encoding":{"x":{"field":"g","type":"nominal"},"y":{"field":"lo","type":"quantitative"}}},
     {"data":{"name":"e_sum"},"mark":{"type":"tick","size":22,"thickness":1.2,"color":"#000"},"encoding":{"x":{"field":"g","type":"nominal"},"y":{"field":"hi","type":"quantitative"}}},
     {"data":{"name":"e_pts"},"transform":[{"filter":"datum.g === 'IL-4KO'"}],"mark":{"type":"point","shape":"circle","filled":true,"color":"#000","size":12},"encoding":{"x":{"field":"g","type":"nominal"},"y":{"field":"v","type":"quantitative"}}},
     {"data":{"name":"e_pts"},"transform":[{"filter":"datum.g !== 'IL-4KO'"}],"mark":{"type":"point","shape":"square","filled":true,"fill":"#fff","stroke":"#000","strokeWidth":0.9,"size":16},"encoding":{"x":{"field":"g","type":"nominal"},"y":{"field":"v","type":"quantitative"}}},
     {"data":{"values":[{}]},"mark":{"type":"rule","color":"#000","strokeWidth":1.2},"encoding":{"x":{"datum":"IL-4KO"},"x2":{"datum":"Itch IL-4 DKO"},"y":{"datum":16.3}}},
     {"data":{"values":[{}]},"mark":{"type":"text","text":"*","fontSize":12,"dx":31.9,"dy":2},"encoding":{"x":{"datum":"IL-4KO"},"y":{"datum":16.3}}},
     {"data":{"values":[{}]},"mark":{"type":"text","text":"e","fontSize":22,"fontWeight":"bold","align":"left","dx":-58,"dy":-30},"encoding":{"x":{"datum":"IL-4KO"},"y":{"datum":15}}},
     {"data":{"values":[{}]},"mark":{"type":"text","text":"IL-17A+","fontSize":12.5,"dx":25,"dy":-31},"encoding":{"x":{"datum":"IL-4KO"},"y":{"datum":15}}}
    ]},
   {"width":116,"height":85,
    "layer":[
     {"data":{"name":"f_sum"},"mark":{"type":"bar","fill":"#fff","stroke":"#000","strokeWidth":1.3},
      "encoding":{"x":{"field":"g","type":"nominal","scale":{"domain":["IL-4KO","Itch IL-4 DKO"],"paddingInner":0.33,"paddingOuter":0.18},"axis":{"title":null,"labelAngle":0,"labelFontSize":12.5,"labelOverlap":false,"labelOffset":{"condition":{"test":"datum.value === 'Itch IL-4 DKO'","value":6},"value":0}}},
                  "y":{"field":"mean","type":"quantitative","scale":{"domain":[25,50],"nice":false,"zero":false},"axis":{"values":[25,30,35,40,45,50],"format":"d","tickCount":20,"labelOverlap":false,"title":["%CD44+","T cells"],"titlePadding":2}},
                  "y2":{"datum":25}}},
     {"data":{"name":"f_sum"},"mark":{"type":"rule","color":"#000","strokeWidth":1.2},"encoding":{"x":{"field":"g","type":"nominal"},"y":{"field":"lo","type":"quantitative"},"y2":{"field":"hi"}}},
     {"data":{"name":"f_sum"},"mark":{"type":"tick","size":22,"thickness":1.2,"color":"#000"},"encoding":{"x":{"field":"g","type":"nominal"},"y":{"field":"lo","type":"quantitative"}}},
     {"data":{"name":"f_sum"},"mark":{"type":"tick","size":22,"thickness":1.2,"color":"#000"},"encoding":{"x":{"field":"g","type":"nominal"},"y":{"field":"hi","type":"quantitative"}}},
     {"data":{"name":"f_pts"},"transform":[{"filter":"datum.g === 'IL-4KO'"}],"mark":{"type":"point","shape":"circle","filled":true,"color":"#000","size":12},"encoding":{"x":{"field":"g","type":"nominal"},"y":{"field":"v","type":"quantitative"}}},
     {"data":{"name":"f_pts"},"transform":[{"filter":"datum.g !== 'IL-4KO'"}],"mark":{"type":"point","shape":"square","filled":true,"fill":"#fff","stroke":"#000","strokeWidth":0.9,"size":16},"encoding":{"x":{"field":"g","type":"nominal"},"y":{"field":"v","type":"quantitative"}}},
     {"data":{"values":[{}]},"mark":{"type":"text","text":"f","fontSize":22,"fontWeight":"bold","align":"left","dx":-56.4,"dy":-20},"encoding":{"x":{"datum":"IL-4KO"},"y":{"datum":50}}},
     {"data":{"values":[{}]},"mark":{"type":"text","text":"IFNγ+","fontSize":13,"dx":28.6,"dy":-20},"encoding":{"x":{"datum":"IL-4KO"},"y":{"datum":50}}}
    ]}
  ]}
 ]},
 {"spacing": 18, "resolve": {"scale": {"fill": "independent"}, "legend": {"fill": "independent"}}, "vconcat": [
  {"spacing": 8, "hconcat": [
   {"spacing": 5, "bounds": "flush", "hconcat": [
    {"width":118,"height":106,
     "layer":[
      {"data":{"name":"gL_dots"},"mark":{"type":"point","filled":true,"size":3,"color":"#999","clip":true},
       "encoding":{"x":{"field":"x","type":"quantitative","scale":{"domain":[0,1],"nice":false,"zero":false,"range":[6,118]},"axis":{"title":null,"labels":false,"tickCount":24,"tickSize":2,"domain":true}},
                   "y":{"field":"y","type":"quantitative","scale":{"domain":[0,1],"nice":false,"zero":false},"axis":{"title":null,"labels":false,"tickCount":6,"tickSize":3,"domain":true,"offset":-6}}}},
      {"data":{"name":"gL_cont"},"transform":[{"filter":"datum.cluster === 'all'"}],"mark":{"type":"point","shape":"M -3.05 0 C -3.05 -1.4 -2.59 -1.65 0 -1.65 C 2.59 -1.65 3.05 -1.4 3.05 0 C 3.05 1.4 2.59 1.65 0 1.65 C -2.59 1.65 -3.05 1.4 -3.05 0 Z","filled":false,"stroke":"#111","strokeWidth":0.7},
       "encoding":{"x":{"field":"cx","type":"quantitative"},"y":{"field":"cy","type":"quantitative"},"size":{"field":"level","type":"quantitative","scale":{"type":"pow","exponent":2,"domain":[0,8],"range":[0,400]},"legend":null}}},
      {"data":{"name":"gL_cont"},"transform":[{"filter":"datum.cluster === 'core'"}],"mark":{"type":"point","shape":"M -1.3 0 C -1.3 -1.32 -1.1 -1.55 0 -1.55 C 1.1 -1.55 1.3 -1.32 1.3 0 C 1.3 1.32 1.1 1.55 0 1.55 C -1.1 1.55 -1.3 1.32 -1.3 0 Z","filled":false,"stroke":"#111","strokeWidth":0.8},
       "encoding":{"x":{"field":"cx","type":"quantitative"},"y":{"field":"cy","type":"quantitative"},"size":{"field":"level","type":"quantitative","scale":{"type":"pow","exponent":2,"domain":[0,8],"range":[0,400]},"legend":null}}},
      {"data":{"name":"gL_cont"},"transform":[{"filter":"datum.cluster === 'lobe'"}],"mark":{"type":"point","shape":"M -1.5 0 C -1.5 -0.77 -1.28 -0.9 0 -0.9 C 1.28 -0.9 1.5 -0.77 1.5 0 C 1.5 0.77 1.28 0.9 0 0.9 C -1.28 0.9 -1.5 0.77 -1.5 0 Z","filled":false,"stroke":"#333","strokeWidth":0.6},
       "encoding":{"x":{"field":"cx","type":"quantitative"},"y":{"field":"cy","type":"quantitative"},"size":{"field":"level","type":"quantitative","scale":{"type":"pow","exponent":2,"domain":[0,8],"range":[0,400]},"legend":null}}},
      {"data":{"values":[{}]},"mark":{"type":"rule","color":"#000","strokeWidth":1},"encoding":{"x":{"datum":0},"x2":{"datum":1},"y":{"datum":1}}},
      {"data":{"values":[{}]},"mark":{"type":"rule","color":"#000","strokeWidth":1},"encoding":{"x":{"datum":1}}},
      {"data":{"values":[{}]},"mark":{"type":"rule","color":"#000","strokeWidth":1},"encoding":{"x":{"datum":0.67}}},
      {"data":{"values":[{}]},"mark":{"type":"rule","color":"#000","strokeWidth":1},"encoding":{"x":{"datum":0},"x2":{"datum":1},"y":{"datum":0.48}}},
      {"data":{"values":[{}]},"mark":{"type":"text","text":"<1","fontSize":10,"align":"left","baseline":"top","dx":3,"dy":3},"encoding":{"x":{"datum":0},"y":{"datum":1}}},
      {"data":{"values":[{}]},"mark":{"type":"text","text":"<1","fontSize":10,"align":"left","baseline":"top","dy":3},"encoding":{"x":{"datum":0.76},"y":{"datum":1}}},
      {"data":{"values":[{}]},"mark":{"type":"text","text":"28.5","fontSize":10,"align":"right","baseline":"bottom","dx":-2,"dy":-1},"encoding":{"x":{"datum":1},"y":{"datum":0}}},
      {"data":{"values":[{}]},"mark":{"type":"text","text":"IL-4 KO","fontSize":13.5,"dx":-6,"dy":-4},"encoding":{"x":{"datum":0.5},"y":{"datum":1}}},
      {"data":{"values":[{}]},"mark":{"type":"text","text":"FOLLOWING DIFFERENTIATION","fontSize":11,"align":"left","dx":5,"dy":-26},"encoding":{"x":{"datum":0},"y":{"datum":1}}},
      {"data":{"values":[{}]},"mark":{"type":"text","text":"g","fontSize":22,"fontWeight":"bold","align":"left","dx":-30,"dy":-20},"encoding":{"x":{"datum":0},"y":{"datum":1}}},
      {"data":{"values":[{}]},"mark":{"type":"rule","color":"#000","strokeWidth":1.2},"encoding":{"x":{"datum":-0.152},"y":{"datum":0.085},"y2":{"datum":0.42}}},
      {"data":{"values":[{}]},"mark":{"type":"point","shape":"triangle-up","filled":true,"color":"#000","size":40},"encoding":{"x":{"datum":-0.152},"y":{"datum":0.435}}},
      {"data":{"values":[{}]},"mark":{"type":"text","text":"IFNγ","fontSize":13.5,"angle":270,"baseline":"middle"},"encoding":{"x":{"datum":-0.16},"y":{"datum":0.69}}},
      {"data":{"values":[{}]},"mark":{"type":"rule","color":"#000","strokeWidth":1.2},"encoding":{"x":{"datum":-0.018},"x2":{"datum":1.56},"y":{"datum":-0.085}}},
      {"data":{"values":[{}]},"mark":{"type":"point","shape":"triangle-right","filled":true,"color":"#000","size":40},"encoding":{"x":{"datum":1.58},"y":{"datum":-0.085}}},
      {"data":{"values":[{}]},"mark":{"type":"text","text":"IL-17A","fontSize":13.5,"align":"left","baseline":"middle"},"encoding":{"x":{"datum":1.66},"y":{"datum":-0.085}}}
     ]},
    {"width":118,"height":106,"view":{"stroke":"#000"},
     "layer":[
      {"data":{"name":"gR_dots"},"mark":{"type":"point","filled":true,"size":3,"color":"#999","clip":true},
       "encoding":{"x":{"field":"x","type":"quantitative","scale":{"domain":[0,1],"nice":false,"zero":false},"axis":{"title":null,"labels":false,"tickCount":24,"tickSize":2,"domain":false}},
                   "y":{"field":"y","type":"quantitative","scale":{"domain":[0,1],"nice":false,"zero":false},"axis":{"title":null,"labels":false,"tickCount":6,"tickSize":3,"domain":false}}}},
      {"data":{"name":"gR_cont"},"transform":[{"filter":"datum.cluster === 'all'"}],"mark":{"type":"point","shape":"M -3.2 0 C -3.2 -1.4 -2.72 -1.65 0 -1.65 C 2.72 -1.65 3.2 -1.4 3.2 0 C 3.2 1.4 2.72 1.65 0 1.65 C -2.72 1.65 -3.2 1.4 -3.2 0 Z","filled":false,"stroke":"#111","strokeWidth":0.7},
       "encoding":{"x":{"field":"cx","type":"quantitative"},"y":{"field":"cy","type":"quantitative"},"size":{"field":"level","type":"quantitative","scale":{"type":"pow","exponent":2,"domain":[0,8],"range":[0,400]},"legend":null}}},
      {"data":{"name":"gR_cont"},"transform":[{"filter":"datum.cluster === 'core'"}],"mark":{"type":"point","shape":"M -1.25 0 C -1.25 -1.32 -1.06 -1.55 0 -1.55 C 1.06 -1.55 1.25 -1.32 1.25 0 C 1.25 1.32 1.06 1.55 0 1.55 C -1.06 1.55 -1.25 1.32 -1.25 0 Z","filled":false,"stroke":"#111","strokeWidth":0.8},
       "encoding":{"x":{"field":"cx","type":"quantitative"},"y":{"field":"cy","type":"quantitative"},"size":{"field":"level","type":"quantitative","scale":{"type":"pow","exponent":2,"domain":[0,8],"range":[0,400]},"legend":null}}},
      {"data":{"name":"gR_cont"},"transform":[{"filter":"datum.cluster === 'lobe'"}],"mark":{"type":"point","shape":"M -1.6 0 C -1.6 -0.77 -1.36 -0.9 0 -0.9 C 1.36 -0.9 1.6 -0.77 1.6 0 C 1.6 0.77 1.36 0.9 0 0.9 C -1.36 0.9 -1.6 0.77 -1.6 0 Z","filled":false,"stroke":"#333","strokeWidth":0.6},
       "encoding":{"x":{"field":"cx","type":"quantitative"},"y":{"field":"cy","type":"quantitative"},"size":{"field":"level","type":"quantitative","scale":{"type":"pow","exponent":2,"domain":[0,8],"range":[0,400]},"legend":null}}},
      {"data":{"values":[{}]},"mark":{"type":"rule","color":"#000","strokeWidth":1},"encoding":{"x":{"datum":0.64}}},
      {"data":{"values":[{}]},"mark":{"type":"rule","color":"#000","strokeWidth":1},"encoding":{"y":{"datum":0.48}}},
      {"data":{"values":[{}]},"mark":{"type":"text","text":"<1","fontSize":10,"align":"left","baseline":"top","dx":3,"dy":3},"encoding":{"x":{"datum":0},"y":{"datum":1}}},
      {"data":{"values":[{}]},"mark":{"type":"text","text":"1.37","fontSize":10,"align":"right","baseline":"top","dx":-2,"dy":3},"encoding":{"x":{"datum":1},"y":{"datum":1}}},
      {"data":{"values":[{}]},"mark":{"type":"text","text":"29.6","fontSize":10,"align":"right","baseline":"bottom","dx":-2,"dy":-1},"encoding":{"x":{"datum":1},"y":{"datum":0}}},
      {"data":{"values":[{}]},"mark":{"type":"text","text":"Itch  IL-4 DKO","fontSize":13.5,"dx":-1,"dy":-4},"encoding":{"x":{"datum":0.5},"y":{"datum":1}}}
     ]}
   ]},
   {"width":103,"height":95,
    "layer":[
     {"data":{"name":"h_sum"},"mark":{"type":"bar","fill":"#fff","stroke":"#000","strokeWidth":1.3},
      "encoding":{"x":{"field":"g","type":"nominal","scale":{"domain":["IL-4KO","Itch IL-4 DKO"],"paddingInner":0.3,"paddingOuter":0.2},"axis":{"title":null,"labelAngle":0,"labelFontSize":11,"labelOverlap":false,"labelOffset":{"condition":{"test":"datum.value === 'Itch IL-4 DKO'","value":16},"value":-2}}},
                  "y":{"field":"mean","type":"quantitative","scale":{"domain":[0,60],"nice":false,"range":[95,12]},"axis":{"values":[0,20,40,60],"format":"d","tickCount":20,"labelOverlap":false,"title":["%CD4+","T cells"],"titlePadding":2}}}},
     {"data":{"name":"h_sum"},"mark":{"type":"rule","color":"#000","strokeWidth":1.2},"encoding":{"x":{"field":"g","type":"nominal"},"y":{"field":"lo","type":"quantitative"},"y2":{"field":"hi"}}},
     {"data":{"name":"h_sum"},"mark":{"type":"tick","size":20,"thickness":1.2,"color":"#000"},"encoding":{"x":{"field":"g","type":"nominal"},"y":{"field":"lo","type":"quantitative"}}},
     {"data":{"name":"h_sum"},"mark":{"type":"tick","size":20,"thickness":1.2,"color":"#000"},"encoding":{"x":{"field":"g","type":"nominal"},"y":{"field":"hi","type":"quantitative"}}},
     {"data":{"name":"h_pts"},"transform":[{"filter":"datum.g === 'IL-4KO'"}],"mark":{"type":"point","shape":"square","filled":true,"color":"#000","size":14},"encoding":{"x":{"field":"g","type":"nominal"},"y":{"field":"v","type":"quantitative"}}},
     {"data":{"name":"h_pts"},"transform":[{"filter":"datum.g !== 'IL-4KO'"}],"mark":{"type":"point","shape":"square","filled":true,"fill":"#fff","stroke":"#000","strokeWidth":0.9,"size":16},"encoding":{"x":{"field":"g","type":"nominal"},"y":{"field":"v","type":"quantitative"}}},
     {"data":{"values":[{}]},"mark":{"type":"text","text":"h","fontSize":22,"fontWeight":"bold","align":"left","dx":-49,"dy":-32},"encoding":{"x":{"datum":"IL-4KO"},"y":{"datum":60}}},
     {"data":{"values":[{}]},"mark":{"type":"text","text":"IL-17A","fontSize":12.5,"dx":28,"dy":-16},"encoding":{"x":{"datum":"IL-4KO"},"y":{"datum":60}}}
    ]}
  ]},
  {"spacing": 21, "resolve": {"scale": {"fill": "independent"}, "legend": {"fill": "independent"}}, "hconcat": [
   {"width":198,"height":110,
    "layer":[
     {"data":{"name":"i_sum"},"mark":{"type":"bar","stroke":"#000","strokeWidth":1.2},
      "encoding":{"x":{"field":"time","type":"nominal","scale":{"domain":["0.5hr","2hr","4hr","6hr","11hr","24hr"],"paddingInner":0.33,"paddingOuter":0.2,"range":[16,198]},"axis":{"title":null,"labelAngle":0,"labelFontSize":13,"labelOverlap":false}},
                  "xOffset":{"field":"geno","type":"nominal","scale":{"domain":["IL-4 KO","Itch IL-4 DKO"],"paddingInner":0.2}},
                  "y":{"field":"mean","type":"quantitative","scale":{"domain":[0,40000],"nice":false},"axis":{"values":[0,10000,20000,30000,40000],"tickCount":20,"labelOverlap":false,"offset":-16,"format":"d","title":"pg/ml","titlePadding":2}},
                  "fill":{"field":"geno","type":"nominal","scale":{"domain":["IL-4 KO","Itch IL-4 DKO"],"range":["#000","#fff"]},"legend":{"title":null,"orient":"none","legendX":32,"legendY":-2,"symbolType":"square","symbolSize":80,"symbolStrokeColor":"#000","symbolStrokeWidth":1,"labelFontSize":12.5,"rowPadding":2,"labelOffset":3,"padding":0}}}},
     {"data":{"name":"i_sum"},"mark":{"type":"rule","color":"#000","strokeWidth":1.1},"encoding":{"x":{"field":"time","type":"nominal"},"xOffset":{"field":"geno","type":"nominal"},"y":{"field":"lo","type":"quantitative"},"y2":{"field":"hi"}}},
     {"data":{"name":"i_sum"},"mark":{"type":"tick","size":6,"thickness":1.1,"color":"#000"},"encoding":{"x":{"field":"time","type":"nominal"},"xOffset":{"field":"geno","type":"nominal"},"y":{"field":"lo","type":"quantitative"}}},
     {"data":{"name":"i_sum"},"mark":{"type":"tick","size":6,"thickness":1.1,"color":"#000"},"encoding":{"x":{"field":"time","type":"nominal"},"xOffset":{"field":"geno","type":"nominal"},"y":{"field":"hi","type":"quantitative"}}},
     {"data":{"name":"i_sig"},"mark":{"type":"tick","size":20,"thickness":1.2,"color":"#000"},"encoding":{"x":{"field":"time","type":"nominal"},"y":{"field":"level","type":"quantitative"}}},
     {"data":{"name":"i_sig"},"mark":{"type":"text","fontSize":12,"dy":2},"encoding":{"x":{"field":"time","type":"nominal"},"y":{"field":"level","type":"quantitative"},"text":{"field":"stars"}}},
     {"data":{"values":[{}]},"mark":{"type":"text","text":"i","fontSize":22,"fontWeight":"bold","align":"left","dx":-49,"dy":-23},"encoding":{"x":{"datum":"0.5hr"},"y":{"datum":40000}}},
     {"data":{"values":[{}]},"mark":{"type":"text","text":"IL-17A","fontSize":13,"dx":76,"dy":-17},"encoding":{"x":{"datum":"0.5hr"},"y":{"datum":40000}}}
    ]},
   {"width":163,"height":108,
    "layer":[
     {"data":{"name":"j_sum"},"mark":{"type":"bar","stroke":"#000","strokeWidth":1.2},
      "encoding":{"x":{"field":"time","type":"nominal","scale":{"domain":["4hr","6hr","11hr","24hr"],"paddingInner":0.43,"paddingOuter":0.155},"axis":{"title":null,"labelAngle":0,"labelFontSize":13,"labelOverlap":false}},
                  "xOffset":{"field":"geno","type":"nominal","scale":{"domain":["IL-4 KO","Itch IL-4 DKO"],"paddingInner":0.15}},
                  "y":{"field":"mean","type":"quantitative","scale":{"domain":[0,25000],"nice":false,"range":[108,1]},"axis":{"values":[0,5000,10000,15000,20000,25000],"tickCount":20,"labelOverlap":false,"format":"d","title":"pg/ml","titlePadding":4}},
                  "fill":{"field":"geno","type":"nominal","scale":{"domain":["IL-4 KO","Itch IL-4 DKO"],"range":["#000","#fff"]},"legend":null}}},
     {"data":{"name":"j_sum"},"mark":{"type":"rule","color":"#000","strokeWidth":1.1},"encoding":{"x":{"field":"time","type":"nominal"},"xOffset":{"field":"geno","type":"nominal"},"y":{"field":"lo","type":"quantitative"},"y2":{"field":"hi"}}},
     {"data":{"name":"j_sum"},"mark":{"type":"tick","size":8,"thickness":1.1,"color":"#000"},"encoding":{"x":{"field":"time","type":"nominal"},"xOffset":{"field":"geno","type":"nominal"},"y":{"field":"lo","type":"quantitative"}}},
     {"data":{"name":"j_sum"},"mark":{"type":"tick","size":8,"thickness":1.1,"color":"#000"},"encoding":{"x":{"field":"time","type":"nominal"},"xOffset":{"field":"geno","type":"nominal"},"y":{"field":"hi","type":"quantitative"}}},
     {"data":{"name":"j_sig"},"mark":{"type":"tick","size":26,"thickness":1.2,"color":"#000"},"encoding":{"x":{"field":"time","type":"nominal"},"y":{"field":"level","type":"quantitative"}}},
     {"data":{"name":"j_sig"},"mark":{"type":"text","fontSize":12,"dy":2},"encoding":{"x":{"field":"time","type":"nominal"},"y":{"field":"level","type":"quantitative"},"text":{"field":"stars"}}},
     {"data":{"name":"j_bld_c"},"mark":{"type":"text","text":"BLD","fontSize":10.5,"dx":4,"dy":-2},"encoding":{"x":{"field":"time","type":"nominal"},"y":{"datum":0}}},
     {"data":{"name":"j_bld_g"},"mark":{"type":"text","text":"BLD","fontSize":10.5,"dy":-2},"encoding":{"x":{"field":"time","type":"nominal"},"xOffset":{"field":"geno","type":"nominal"},"y":{"datum":0}}},
     {"data":{"values":[{}]},"mark":{"type":"text","text":"j","fontSize":22,"fontWeight":"bold","align":"left","dx":-50.5,"dy":-24},"encoding":{"x":{"datum":"4hr"},"y":{"datum":25000}}},
     {"data":{"values":[{}]},"mark":{"type":"text","text":"IFNγ","fontSize":13,"dx":56.5,"dy":-18},"encoding":{"x":{"datum":"4hr"},"y":{"datum":25000}}}
    ]},
   {"width":163,"height":109,
    "layer":[
     {"data":{"name":"k_sum"},"mark":{"type":"bar","stroke":"#000","strokeWidth":1.2},
      "encoding":{"x":{"field":"time","type":"nominal","scale":{"domain":["4hr","6hr","11hr","24hr"],"paddingInner":0.43,"paddingOuter":0.155},"axis":{"title":null,"labelAngle":0,"labelFontSize":13,"labelOverlap":false}},
                  "xOffset":{"field":"geno","type":"nominal","scale":{"domain":["IL-4 KO","Itch IL-4 DKO"],"paddingInner":0.15}},
                  "y":{"field":"mean","type":"quantitative","scale":{"domain":[0,15000],"nice":false,"range":[109,3]},"axis":{"values":[0,5000,10000,15000],"tickCount":20,"labelOverlap":false,"format":"d","title":"pg/ml","titlePadding":4}},
                  "fill":{"field":"geno","type":"nominal","scale":{"domain":["IL-4 KO","Itch IL-4 DKO"],"range":["#000","#fff"]},"legend":null}}},
     {"data":{"name":"k_sum"},"mark":{"type":"rule","color":"#000","strokeWidth":1.1},"encoding":{"x":{"field":"time","type":"nominal"},"xOffset":{"field":"geno","type":"nominal"},"y":{"field":"lo","type":"quantitative"},"y2":{"field":"hi"}}},
     {"data":{"name":"k_sum"},"mark":{"type":"tick","size":8,"thickness":1.1,"color":"#000"},"encoding":{"x":{"field":"time","type":"nominal"},"xOffset":{"field":"geno","type":"nominal"},"y":{"field":"lo","type":"quantitative"}}},
     {"data":{"name":"k_sum"},"mark":{"type":"tick","size":8,"thickness":1.1,"color":"#000"},"encoding":{"x":{"field":"time","type":"nominal"},"xOffset":{"field":"geno","type":"nominal"},"y":{"field":"hi","type":"quantitative"}}},
     {"data":{"name":"k_sig"},"mark":{"type":"tick","size":28,"thickness":1.2,"color":"#000"},"encoding":{"x":{"field":"time","type":"nominal"},"y":{"field":"level","type":"quantitative"}}},
     {"data":{"name":"k_sig"},"transform":[{"filter":"datum.time === '11hr'"}],"mark":{"type":"tick","size":28,"thickness":2.6,"color":"#000"},"encoding":{"x":{"field":"time","type":"nominal"},"y":{"field":"level","type":"quantitative"}}},
     {"data":{"name":"k_sig"},"mark":{"type":"text","fontSize":12,"dy":2},"encoding":{"x":{"field":"time","type":"nominal"},"y":{"field":"level","type":"quantitative"},"text":{"field":"stars"}}},
     {"data":{"name":"k_bld"},"mark":{"type":"text","text":"BLD","fontSize":10.5,"dx":-3,"dy":-2},"encoding":{"x":{"field":"time","type":"nominal"},"xOffset":{"field":"geno","type":"nominal"},"y":{"datum":0}}},
     {"data":{"values":[{}]},"mark":{"type":"text","text":"k","fontSize":22,"fontWeight":"bold","align":"left","dx":-72.5,"dy":-26},"encoding":{"x":{"datum":"4hr"},"y":{"datum":15000}}},
     {"data":{"values":[{}]},"mark":{"type":"text","text":"GM-CSF","fontSize":12,"dx":71.5,"dy":-20},"encoding":{"x":{"datum":"4hr"},"y":{"datum":15000}}}
    ]}
  ]}
 ]}
]
}
